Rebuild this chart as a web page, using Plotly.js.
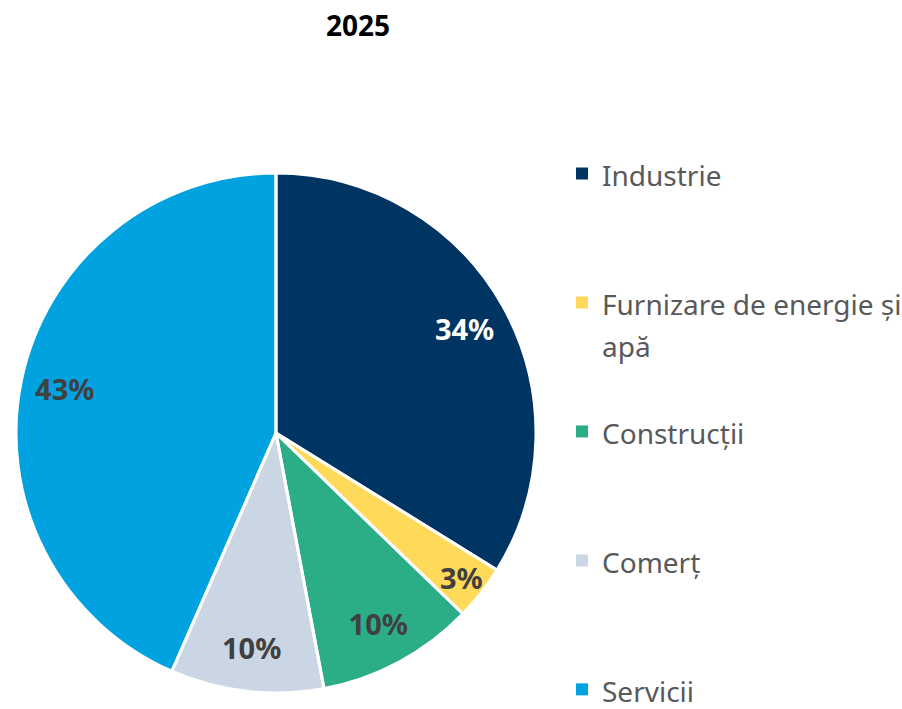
<!DOCTYPE html>
<html>
<head>
<meta charset="utf-8">
<script src="https://cdn.plot.ly/plotly-3.0.1.min.js"></script>
<style>html,body{margin:0;padding:0;background:#fff;}#chart{width:902px;height:709px;}</style>
</head>
<body>
<div id="chart"></div>
<script>
const categories = ["Industrie", "Furnizare de energie și<br>apă", "Construcții", "Comerț", "Servicii"];
const shares = [33.8, 3.4, 9.8, 9.5, 43.4];
const sliceColors = ["#003462", "#FFD95A", "#2BAE87", "#CBD6E4", "#00A3E0"];
const labelColors = ["#FFFFFF", "#404040", "#404040", "#404040", "#404040"];
const chartTitle = "2025";

const FONT = "Noto Sans, sans-serif";
const pieDomain = { x: [16 / 902, 536 / 902], y: [1 - 693 / 709, 1 - 173 / 709] };
const transparent = sliceColors.map(function () { return "rgba(0,0,0,0)"; });

// legend entries: 28px text on 42px lines, padded with blank lines so entries are spaced like the original
const legendNames = categories.map(function (c, i) {
  const lines = c.split("<br>").map(function (l) { return '<span style="font-size:28px">' + l + '</span>'; });
  const pad = i === categories.length - 1 ? 0 : 3 - lines.length;
  let s = lines.join("<br>");
  for (let k = 0; k < pad; k++) s += "<br> ";
  return s;
});

// 1) coloured slices, which also feed the legend
const slices = {
  type: "pie",
  labels: legendNames,
  values: shares,
  sort: false,
  direction: "clockwise",
  rotation: 0,
  marker: { colors: sliceColors, line: { width: 0 } },
  textinfo: "none",
  textposition: "none",
  hoverinfo: "skip",
  domain: pieDomain
};

// 2) white separators between slices
const borders = {
  type: "pie",
  labels: legendNames,
  values: shares,
  sort: false,
  direction: "clockwise",
  rotation: 0,
  showlegend: false,
  marker: { colors: transparent, line: { color: "#FFFFFF", width: 3 } },
  textinfo: "none",
  textposition: "none",
  hoverinfo: "skip",
  domain: pieDomain
};

// 3) transparent ring, only to place the percentage labels near the rim
const labelRing = {
  type: "pie",
  labels: legendNames,
  values: shares,
  sort: false,
  direction: "clockwise",
  rotation: 0,
  hole: 0.66,
  showlegend: false,
  marker: { colors: transparent, line: { width: 0 } },
  texttemplate: "<b>%{percent:.0%}</b>",
  textposition: "inside",
  insidetextorientation: "horizontal",
  textfont: { family: FONT, size: 29, color: labelColors },
  hoverinfo: "skip",
  domain: pieDomain
};

const layout = {
  width: 902,
  height: 709,
  margin: { l: 0, r: 0, t: 0, b: 0, autoexpand: false },
  paper_bgcolor: "#FFFFFF",
  uniformtext: { minsize: 29, mode: "show" },
  title: {
    text: "<b>" + chartTitle + "</b>",
    x: 358 / 902, xanchor: "center", xref: "paper",
    y: 1 - 26 / 709, yanchor: "middle", yref: "container",
    font: { family: FONT, size: 28, color: "#000000" }
  },
  showlegend: true,
  legend: {
    x: 562 / 902, xanchor: "left",
    y: 1 - 146 / 709, yanchor: "top",
    valign: "top",
    font: { family: FONT, size: 32.3, color: "#595959" },
    itemwidth: 30,
    bgcolor: "rgba(0,0,0,0)"
  }
};

Plotly.newPlot("chart", [slices, borders, labelRing], layout, { displayModeBar: false, staticPlot: true });
</script>
</body>
</html>
